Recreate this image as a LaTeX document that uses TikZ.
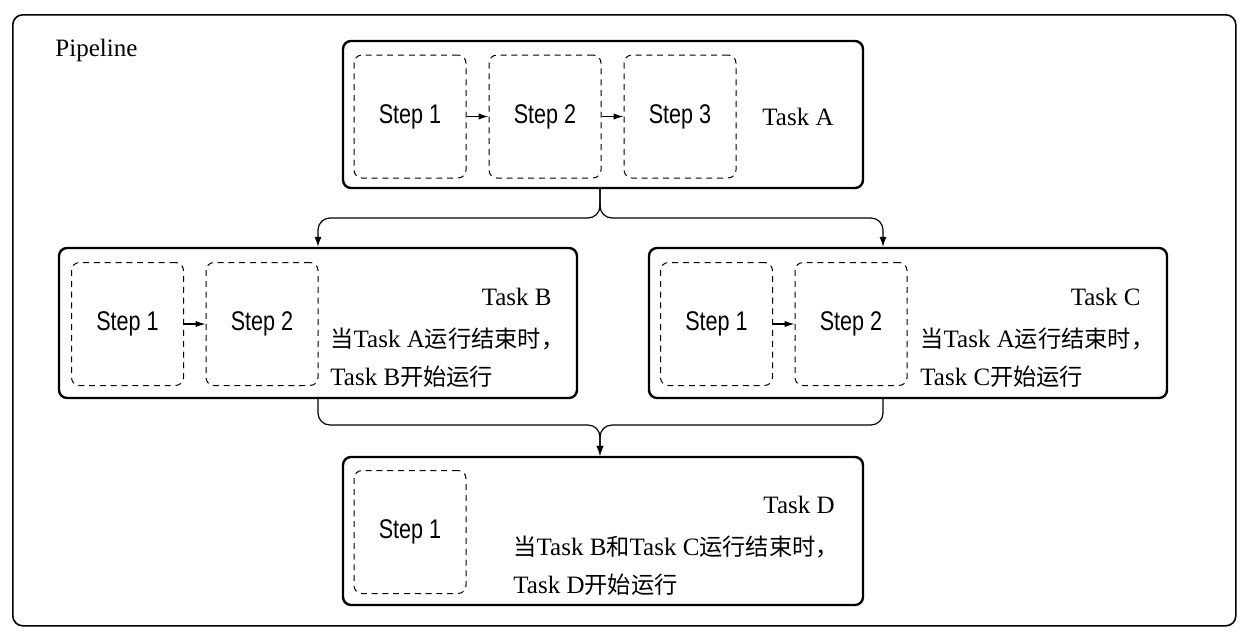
\documentclass[tikz,border=0pt]{standalone}
\usepackage{fontspec}
\setmainfont{Liberation Serif}
\newfontfamily\cjk{Noto Sans CJK SC}[Scale=0.93]
\newfontfamily\stepfont{Liberation Sans}[FakeStretch=0.8]
\usetikzlibrary{arrows.meta}
\newcommand{\zh}[1]{{\cjk #1}}
\tikzset{
  taskbox/.style={draw,line width=1.2pt,rounded corners=4pt,minimum width=260pt,minimum height=74pt,inner sep=0pt},
  stepbox/.style={draw,dashed,dash pattern=on 3pt off 2.4pt,line width=0.5pt,rounded corners=4pt,minimum width=56pt,minimum height=61.5pt,inner sep=0pt,font=\stepfont\fontsize{13.5}{16}\selectfont},
  tasktext/.style={inner sep=0pt,font=\fontsize{12.5}{15}\selectfont},
  flow/.style={line width=0.6pt,rounded corners=6pt,-{Latex[length=5pt,width=3.6pt]}},
  stepflow/.style={line width=0.6pt,-{Latex[length=5pt,width=3.2pt]}},
}
\begin{document}
\begin{tikzpicture}[x=0.5pt,y=-0.5pt,line join=bevel]
\useasboundingbox (0,0) rectangle (1248,638);
%%
\node (pipeline) at (12,14) [draw,line width=0.8pt,rounded corners=5pt,anchor=north west,minimum width=611.5pt,minimum height=305.5pt] {};
\node (pipelinelabel) at (55,50) [tasktext,anchor=west] {Pipeline};
%
\node (taskA) at (603,114.5) [taskbox,minimum height=73.5pt] {};
  \node (stepA1) at (410,116.5) [stepbox] {Step 1};
  \node (stepA2) at (545,116.5) [stepbox] {Step 2};
  \node (stepA3) at (680,116.5) [stepbox] {Step 3};
  \node (labelA) at (798,117) [tasktext] {Task A};
  \draw [stepflow] (stepA1) -- (stepA2);
  \draw [stepflow] (stepA2) -- (stepA3);
%
\node (taskB) at (318,323) [taskbox,minimum width=259pt,minimum height=75pt] {};
  \node (stepB1) at (127.5,324) [stepbox] {Step 1};
  \node (stepB2) at (262,324) [stepbox] {Step 2};
  \node (labelB) at (552,297) [tasktext,anchor=east] {Task B};
  \node (noteB1) at (330,339) [tasktext,anchor=west] {\zh{当}Task A\zh{运行结束时，}};
  \node (noteB2) at (330,377) [tasktext,anchor=west] {Task B\zh{开始运行}};
  \draw [stepflow] (stepB1) -- (stepB2);
%
\node (taskC) at (908,323) [taskbox,minimum width=259pt,minimum height=75pt] {};
  \node (stepC1) at (716.5,324) [stepbox] {Step 1};
  \node (stepC2) at (851,324) [stepbox] {Step 2};
  \node (labelC) at (1141,297) [tasktext,anchor=east] {Task C};
  \node (noteC1) at (920,339) [tasktext,anchor=west] {\zh{当}Task A\zh{运行结束时，}};
  \node (noteC2) at (920,377) [tasktext,anchor=west] {Task C\zh{开始运行}};
  \draw [stepflow] (stepC1) -- (stepC2);
%
\node (taskD) at (603,531) [taskbox,minimum height=74pt] {};
  \node (stepD1) at (410,532) [stepbox] {Step 1};
  \node (labelD) at (835,505) [tasktext,anchor=east] {Task D};
  \node (noteD1) at (513,547) [tasktext,anchor=west] {\zh{当}Task B\zh{和}Task C\zh{运行结束时，}};
  \node (noteD2) at (513,585) [tasktext,anchor=west] {Task D\zh{开始运行}};
%% connectors
\coordinate (forkA) at (600,218);
\coordinate (joinD) at (600,425);
\coordinate (colB) at (318,0);
\coordinate (colC) at (883,0);
\draw [flow] (taskA.south -| forkA) -- (forkA) -| (taskB.north -| colB);
\draw [flow] (taskA.south -| forkA) -- (forkA) -| (taskC.north -| colC);
\draw [flow] (taskB.south -| colB) |- (joinD) -- (taskD.north -| joinD);
\draw [flow] (taskC.south -| colC) |- (joinD) -- (taskD.north -| joinD);
%
\end{tikzpicture}
\end{document}
